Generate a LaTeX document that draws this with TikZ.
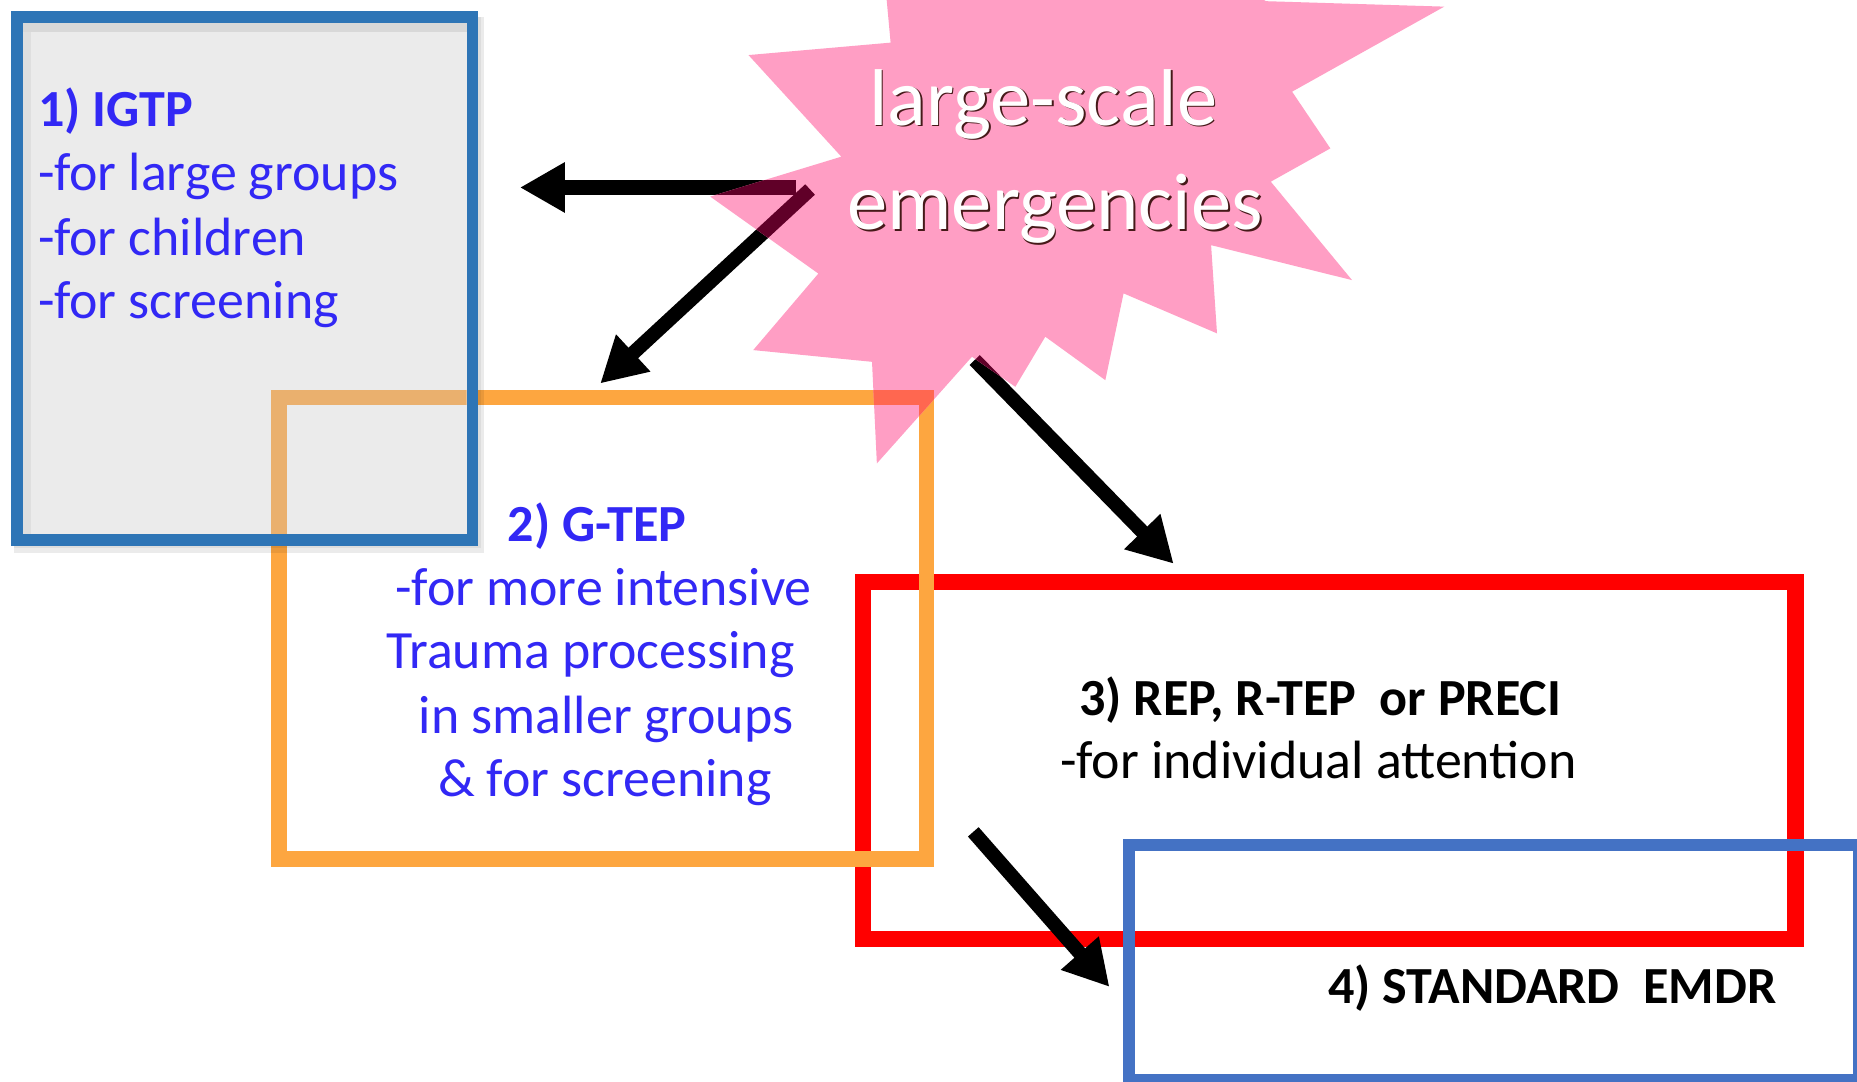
\documentclass[tikz,border=0pt]{standalone}
\usepackage{fontspec}
\setmainfont{Carlito}
\usetikzlibrary{arrows.meta}
\definecolor{boxblue}{RGB}{46,117,182}
\definecolor{boxblueb}{RGB}{68,114,196}
\definecolor{boxorange}{RGB}{253,166,64}
\definecolor{mutedorange}{RGB}{234,176,110}
\definecolor{overorange}{RGB}{255,103,80}
\definecolor{boxred}{RGB}{255,0,0}
\definecolor{starpink}{RGB}{255,158,196}
\definecolor{arrowmaroon}{RGB}{96,0,40}
\definecolor{txtblue}{RGB}{50,40,245}
\definecolor{fillgray}{RGB}{235,235,235}
\definecolor{starshadow}{RGB}{70,25,25}
\tikzset{
  bluetxt/.style={text=txtblue, inner sep=0pt, font=\fontsize{45.5}{53}\selectfont},
  bluebold/.style={text=txtblue, inner sep=0pt, font=\fontsize{44}{53}\selectfont\bfseries},
  blacktxt/.style={text=black, inner sep=0pt, font=\fontsize{45.5}{53}\selectfont},
  blackbold/.style={text=black, inner sep=0pt, font=\fontsize{44}{53}\selectfont\bfseries},
  startxt/.style={inner sep=0pt, anchor=base, font=\fontsize{68}{80}\selectfont},
  arrowline/.style={line width=12pt, -{Triangle[length=38pt,width=40pt]}},
  boxnode/.style={inner sep=0pt, outer sep=0pt},
}
\def\starpath{(745,-40) -- (752,36) -- (632,46.5) -- (710.4,132.3) -- (599.7,166) -- (691,231) -- (636,295.6) -- (736.3,305.5) -- (740.4,391.3) -- (820.7,301.2) -- (857.3,326.6) -- (882.6,284.3) -- (933.3,321) -- (948.7,247.7) -- (1027.6,281.5) -- (1022.6,207) -- (1141.6,236.5) -- (1073,153.4) -- (1123.3,125.3) -- (1091,77.4) -- (1219.5,5.6) -- (1069,1) -- (1000,-40) -- cycle}
\begin{document}
\begin{tikzpicture}[x=1pt,y=-1pt]
\useasboundingbox (0,0) rectangle (1568,912.8);
\clip (0,0) rectangle (1568,912.8);
\fill[white] (0,0) rectangle (1568,912.8);

% box 3 (red)
\node[boxnode, draw=boxred, line width=14pt, minimum width=787.4pt, minimum height=301.5pt] (b3) at (1122.3,642.25) {};
% box 2 (orange)
\node[boxnode, draw=boxorange, line width=13pt, minimum width=546.8pt, minimum height=390pt] (b2) at (509,530.4) {};

% box 1 shadow
\fill[black, opacity=0.08] (12,14) rectangle (409,467);
\fill[black, opacity=0.06] (12,14) rectangle (406,463);
% box 1 fill
\node[boxnode, fill=fillgray, minimum width=384.6pt, minimum height=442pt] (b1) at (206.7,235.3) {};
\fill[black, opacity=0.08] (19.4,19.6) rectangle (394,27);
\fill[black, opacity=0.05] (19.4,27) rectangle (26,451);
\begin{scope}
  \clip (19.4,19.6) rectangle (394,451);
  \draw[mutedorange, line width=13pt] (b2.south west) rectangle (b2.north east);
\end{scope}
\draw[boxblue, line width=10pt] (b1.south west) rectangle (b1.north east);

% box 4
\node[boxnode, draw=boxblueb, line width=10pt, minimum width=616.7pt, minimum height=197.7pt] (b4) at (1261.65,812.65) {};

% arrow end points
\coordinate (a1s) at (672,158.3);
\coordinate (a1e) at (439,158.3);
\coordinate (a2s) at (684,160);
\coordinate (a2e) at (506.8,323.8);
\coordinate (a3s) at (823,304);
\coordinate (a3e) at (991,476);
\coordinate (a4s) at (821.8,702.4);
\coordinate (a4e) at (936.8,833.3);

\draw[arrowline, line width=12.5pt] (a1s) -- (a1e);
\draw[arrowline] (a2s) -- (a2e);
\draw[arrowline] (a3s) -- (a3e);
\draw[arrowline] (a4s) -- (a4e);

% star
\fill[starpink] \starpath;
\begin{scope}
  \clip \starpath;
  \draw[overorange, line width=13pt] (b2.south west) rectangle (b2.north east);
  \draw[arrowline, line width=12.5pt, arrowmaroon] (a1s) -- (a1e);
  \draw[arrowline, arrowmaroon] (a2s) -- (a2e);
  \draw[arrowline, arrowmaroon] (a3s) -- (a3e);
\end{scope}

% star text
\node[startxt, text=starshadow] (s1sh) at (882.3,107.1) {large-scale};
\node[startxt, text=starshadow] (s2sh) at (892.4,195.5) {emergencies};
\node[startxt, text=white] (s1) at (880.8,105.6) {large-scale};
\node[startxt, text=white] (s2) at (890.9,194) {emergencies};

% box 1 text
\node[bluebold, anchor=base west] (t1a) at (32,107) {1) IGTP};
\node[bluetxt, anchor=base west] (t1b) at (32,161) {-for large groups};
\node[bluetxt, anchor=base west] (t1c) at (32,216) {-for children};
\node[bluetxt, anchor=base west] (t1d) at (32,269) {-for screening};

% box 2 text
\node[bluebold, anchor=base] (t2a) at (504.2,457.4) {2) G-TEP};
\node[bluetxt, anchor=base] (t2b) at (509.8,510.9) {-for more intensive};
\node[bluetxt, anchor=base] (t2c) at (498.6,564.4) {Trauma processing};
\node[bluetxt, anchor=base] (t2d) at (511.7,619.3) {in smaller groups};
\node[bluetxt, anchor=base] (t2e) at (510.7,672.8) {\& for screening};

% box 3 text
\node[blackbold, anchor=base] (t3a) at (1114.8,603.9) {3) REP, R-TEP\ \ or PRECI};
\node[blacktxt, anchor=base] (t3b) at (1113.4,657.4) {-for individual attention};

% box 4 text
\node[blackbold, anchor=base] (t4a) at (1310.7,847.4) {4) STANDARD\ \ EMDR};
\end{tikzpicture}
\end{document}
